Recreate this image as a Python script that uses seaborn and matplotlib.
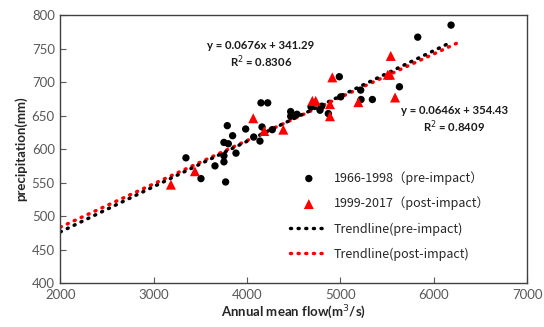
import matplotlib
matplotlib.use("Agg")
import matplotlib.pyplot as plt
import numpy as np
import pandas as pd
import seaborn as sns

# 1966-1998 (pre-impact)
pre_flow = [6185, 5828, 5632, 5342, 5221, 5217, 5003, 4988, 4870, 4800, 4781,
            4685, 4535, 4467, 4467, 4270, 4221, 4149, 4160, 4138, 4071, 3985,
            3845, 3788, 3799, 3752, 3881, 3752, 3752, 3656, 3506, 3770, 3345]
pre_prec = [785, 767, 693, 674, 674, 688, 678, 708, 653, 664, 658,
            663, 652, 656, 649, 629, 669, 669, 633, 612, 618, 630,
            620, 635, 608, 610, 594, 590, 581, 575, 556, 551, 587]

# 1999-2017 (post-impact)
post_flow = [5539, 5507, 5531, 4913, 5585, 5192, 4888, 4888, 4699, 4735,
             4388, 4184, 4066, 3441, 3184]
post_prec = [739, 711, 711, 707, 677, 670, 667, 649, 672, 672,
             629, 627, 646, 567, 547]

# linear trendlines (slope, intercept, x range)
pre_fit = (0.0676, 341.29)
post_fit = (0.0646, 354.43)
pre_range = [2000, 6185]
post_range = [2000, 6250]

x_ticks = [2000, 3000, 4000, 5000, 6000, 7000]
y_ticks = [400, 450, 500, 550, 600, 650, 700, 750, 800]

sns.set_style("ticks")
plt.rcParams["font.family"] = ["Lato", "DejaVu Sans"]

fig = plt.figure(figsize=(5.44, 3.27), dpi=100)
ax = fig.add_axes([0.111, 0.134, 0.858, 0.820])

sns.scatterplot(x=pre_flow, y=pre_prec, ax=ax, color="black", marker="o",
                s=28, edgecolor="none", label="1966-1998\uff08pre-impact\uff09", zorder=3)
sns.scatterplot(x=post_flow, y=post_prec, ax=ax, color="red", marker="^",
                s=52, edgecolor="none", label="1999-2017\uff08post-impact\uff09", zorder=3)


def trend(fit, rng):
    xs = np.linspace(rng[0], rng[1], 60)
    return pd.DataFrame({"x": xs, "y": fit[0] * xs + fit[1]})


dots = (0, (0.3, 1.9))
pre_df = trend(pre_fit, pre_range)
post_df = trend(post_fit, post_range)
sns.lineplot(data=post_df, x="x", y="y", ax=ax, color="red", linestyle=dots,
             linewidth=2.5, dash_capstyle="round", label="Trendline(post-impact)", zorder=2)
sns.lineplot(data=pre_df, x="x", y="y", ax=ax, color="black", linestyle=dots,
             linewidth=2.5, dash_capstyle="round", label="Trendline(pre-impact)", zorder=2)

ax.set_xlim(2000, 7000)
ax.set_ylim(400, 800)
ax.set_xticks(x_ticks)
ax.set_yticks(y_ticks)
ax.tick_params(direction="in", length=4, width=0.8, colors="#595959",
               labelsize=9.5, labelcolor="#595959", pad=4)
for s in ax.spines.values():
    s.set_visible(True)
    s.set_color("#404040")
    s.set_linewidth(1.0)

ax.set_xlabel("Annual mean flow(m$^3$/s)", fontsize=9.5, fontweight="bold", labelpad=2)
ax.set_ylabel("precipitation(mm)", fontsize=9.5, fontweight="bold", labelpad=3)

eq_kw = dict(ha="center", va="center", fontsize=8.2, fontweight="bold", color="#1a1a1a")
ax.text(4149, 755, "y = 0.0676x + 341.29", **eq_kw)
ax.text(4149, 731, "R$^2$ = 0.8306", **eq_kw)
ax.text(6218, 657, "y = 0.0646x + 354.43", **eq_kw)
ax.text(6218, 633, "R$^2$ = 0.8409", **eq_kw)

handles, labels = ax.get_legend_handles_labels()
order = [0, 1, 3, 2]
leg = ax.legend([handles[i] for i in order], [labels[i] for i in order],
                loc="upper left", bbox_to_anchor=(0.468, 0.46), frameon=False,
                handlelength=3.0, labelspacing=0.95, handletextpad=0.5,
                prop={"family": ["Noto Sans CJK SC", "DejaVu Sans"], "size": 9})

fig.savefig("out.png", dpi=100)
